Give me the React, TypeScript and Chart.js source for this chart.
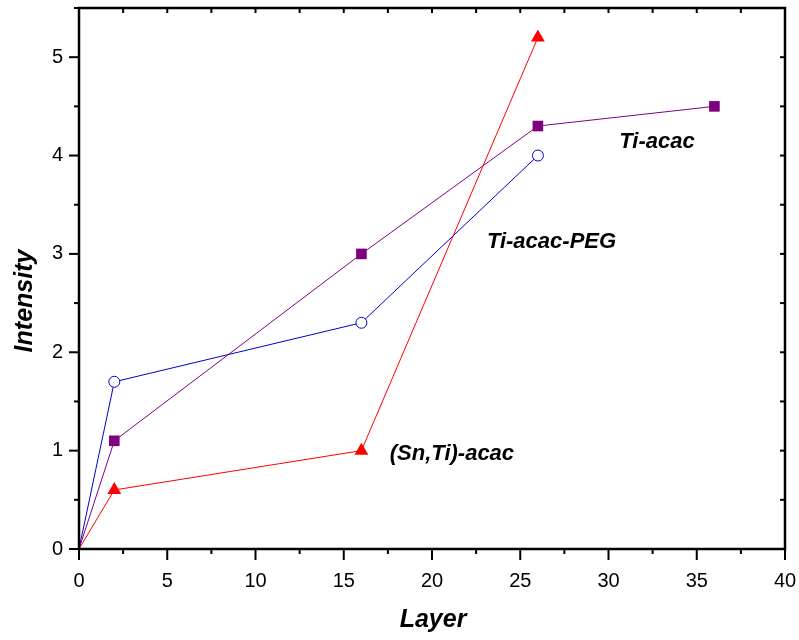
import React, { useEffect, useRef } from "react";
import { Chart, registerables } from "chart.js";
Chart.register(...registerables);

const layers = [0, 2, 16, 26, 36];
const tiAcac = [0, 1.1, 3.0, 4.3, 4.5];
const tiAcacPeg = [0, 1.7, 2.3, 4.0];
const snTiAcac = [0, 0.6, 1.0, 5.2];
const xMajor = [0, 5, 10, 15, 20, 25, 30, 35, 40];
const xMinor = [2.5, 7.5, 12.5, 17.5, 22.5, 27.5, 32.5, 37.5];
const yMajor = [0, 1, 2, 3, 4, 5];
const yMinor = [0.5, 1.5, 2.5, 3.5, 4.5, 5.5];
const seriesLabels = [
  { text: "Ti-acac", x: 32.75, y: 4.08 },
  { text: "Ti-acac-PEG", x: 26.77, y: 3.06 },
  { text: "(Sn,Ti)-acac", x: 21.13, y: 0.9 },
];

const toPoints = (ys: number[]) => ys.map((y, i) => ({ x: layers[i], y }));
const radii = (n: number, r: number) => Array.from({ length: n }, (_, i) => (i === 0 ? 0 : r));

const decorPlugin = {
  id: "decor",
  afterDraw(chart: any) {
    const { ctx, chartArea: a, scales } = chart;
    const xs = scales.x;
    const ys = scales.y;
    ctx.save();
    ctx.strokeStyle = "#000";
    ctx.lineWidth = 2.5;
    ctx.strokeRect(a.left, a.top, a.right - a.left, a.bottom - a.top);
    ctx.lineWidth = 2;
    const line = (x1: number, y1: number, x2: number, y2: number) => {
      ctx.beginPath();
      ctx.moveTo(x1, y1);
      ctx.lineTo(x2, y2);
      ctx.stroke();
    };
    xMajor.forEach((v) => {
      const px = xs.getPixelForValue(v);
      line(px, a.bottom, px, a.bottom + 11);
      line(px, a.top, px, a.top + 5);
    });
    xMinor.forEach((v) => {
      const px = xs.getPixelForValue(v);
      line(px, a.bottom, px, a.bottom + 5);
      line(px, a.top, px, a.top + 5);
    });
    yMajor.forEach((v) => {
      const py = ys.getPixelForValue(v);
      line(a.left - 10, py, a.left, py);
      line(a.right, py, a.right - 5, py);
    });
    yMinor.forEach((v) => {
      const py = ys.getPixelForValue(v);
      line(a.left - 5, py, a.left, py);
      line(a.right, py, a.right - 5, py);
    });
    ctx.fillStyle = "#000";
    ctx.font = 'italic bold 22px "Liberation Sans", Arial, sans-serif';
    ctx.textAlign = "center";
    ctx.textBaseline = "alphabetic";
    seriesLabels.forEach((l) => {
      ctx.fillText(l.text, xs.getPixelForValue(l.x), ys.getPixelForValue(l.y));
    });
    ctx.font = 'italic bold 25px "Liberation Sans", Arial, sans-serif';
    ctx.fillText("Layer", 433, 627);
    ctx.translate(32, 301);
    ctx.rotate(-Math.PI / 2);
    ctx.fillText("Intensity", 0, 0);
    ctx.restore();
  },
};

export default function App() {
  const ref = useRef<HTMLCanvasElement>(null);
  useEffect(() => {
    document.body.style.margin = "0";
    const chart = new Chart(ref.current!, {
      type: "scatter",
      data: {
        datasets: [
          {
            label: "(Sn,Ti)-acac",
            data: toPoints(snTiAcac),
            showLine: true,
            borderColor: "#ff0000",
            backgroundColor: "#ff0000",
            borderWidth: 1,
            pointStyle: "triangle",
            pointRadius: radii(snTiAcac.length, 8),
            pointBorderWidth: 0,
          },
          {
            label: "Ti-acac",
            data: toPoints(tiAcac),
            showLine: true,
            borderColor: "#800080",
            backgroundColor: "#800080",
            borderWidth: 1,
            pointStyle: "rect",
            pointRadius: radii(tiAcac.length, 7.5),
            pointBorderWidth: 0,
          },
          {
            label: "Ti-acac-PEG",
            data: toPoints(tiAcacPeg),
            showLine: true,
            borderColor: "#0000cc",
            backgroundColor: "#ffffff",
            pointBorderColor: "#0000cc",
            borderWidth: 1,
            pointStyle: "circle",
            pointRadius: radii(tiAcacPeg.length, 5.5),
            pointBorderWidth: 1,
          },
        ],
      },
      options: {
        animation: false,
        responsive: false,
        devicePixelRatio: 1,
        layout: { padding: { top: 6, right: 14, left: 0, bottom: 0 } },
        plugins: { legend: { display: false }, tooltip: { enabled: false } },
        scales: {
          x: {
            type: "linear",
            min: 0,
            max: 40,
            afterBuildTicks: (s: any) => {
              s.ticks = xMajor.map((v) => ({ value: v }));
            },
            afterFit: (s: any) => {
              s.height = 91;
              s.paddingLeft = 0;
              s.paddingRight = 0;
              s.paddingTop = 0;
              s.paddingBottom = 0;
            },
            grid: { display: false, drawTicks: false },
            border: { display: false },
            ticks: {
              color: "#000",
              padding: 20,
              maxRotation: 0,
              font: { family: '"Liberation Sans", Arial, sans-serif', size: 20 },
            },
          },
          y: {
            type: "linear",
            min: 0,
            max: 5.5,
            afterBuildTicks: (s: any) => {
              s.ticks = yMajor.map((v) => ({ value: v }));
            },
            afterFit: (s: any) => {
              s.width = 79;
              s.paddingLeft = 0;
              s.paddingRight = 0;
              s.paddingTop = 0;
              s.paddingBottom = 0;
            },
            grid: { display: false, drawTicks: false },
            border: { display: false },
            ticks: {
              color: "#000",
              padding: 16,
              font: { family: '"Liberation Sans", Arial, sans-serif', size: 20 },
            },
          },
        },
      },
      plugins: [decorPlugin],
    } as any);
    return () => chart.destroy();
  }, []);
  return (
    <div style={{ position: "absolute", left: 0, top: 0, width: 799, height: 640 }}>
      <canvas ref={ref} width={799} height={640} />
    </div>
  );
}
